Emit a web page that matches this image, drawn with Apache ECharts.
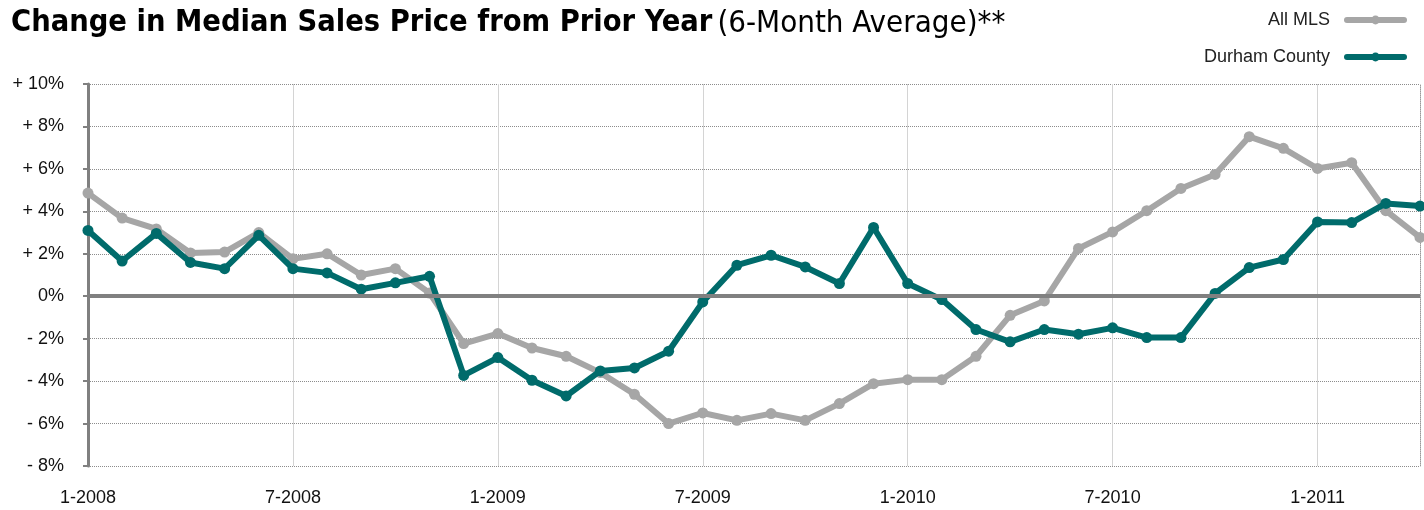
<!DOCTYPE html>
<html>
<head>
<meta charset="utf-8">
<script src="https://cdn.jsdelivr.net/npm/echarts@6/dist/echarts.min.js"></script>
<style>
  html, body { margin: 0; padding: 0; background: #fff; }
  #chart { width: 1424px; height: 510px; }
</style>
</head>
<body>
<div id="chart"></div>
<script>
// months, 1-2008 .. 4-2011
var months = [
  '1-2008','2-2008','3-2008','4-2008','5-2008','6-2008','7-2008','8-2008','9-2008','10-2008','11-2008','12-2008',
  '1-2009','2-2009','3-2009','4-2009','5-2009','6-2009','7-2009','8-2009','9-2009','10-2009','11-2009','12-2009',
  '1-2010','2-2010','3-2010','4-2010','5-2010','6-2010','7-2010','8-2010','9-2010','10-2010','11-2010','12-2010',
  '1-2011','2-2011','3-2011','4-2011'
];
// % change from prior year
var allMLS = [
  4.86, 3.68, 3.17, 2.04, 2.08, 3.0, 1.76, 2.0, 1.0, 1.3, 0.15,
  -2.23, -1.76, -2.44, -2.83, -3.6, -4.62, -6.0, -5.5, -5.85, -5.53, -5.85, -5.06, -4.12, -3.93,
  -3.93, -2.83, -0.9, -0.22, 2.25, 3.03, 4.03, 5.08, 5.74, 7.52, 6.97, 6.02, 6.29, 4.03, 2.77
];
var durham = [
  3.1, 1.66, 2.96, 1.59, 1.3, 2.87, 1.3, 1.1, 0.33, 0.63, 0.94,
  -3.73, -2.89, -3.96, -4.7, -3.52, -3.38, -2.59, -0.27, 1.46, 1.93, 1.38, 0.6, 3.24, 0.6,
  -0.16, -1.57, -2.15, -1.57, -1.79, -1.49, -1.95, -1.95, 0.13, 1.35, 1.73, 3.5, 3.47, 4.37, 4.25
];

var myChart = echarts.init(document.getElementById('chart'));
var font = 'Helvetica, Arial, "Liberation Sans", sans-serif';
var titleFont = '"Liberation Sans Narrow", "DejaVu Sans Condensed", sans-serif';

var option = {
  animation: false,
  title: {
    left: 6,
    top: 3,
    text: '{b|Change in Median Sales Price from Prior Year} {r|(6-Month Average)**}',
    textStyle: {
      rich: {
        b: { fontFamily: titleFont, fontWeight: 'bold', fontSize: 30.5, color: '#000' },
        r: { fontFamily: titleFont, fontWeight: 'normal', fontSize: 31, color: '#000' }
      }
    }
  },
  legend: {
    orient: 'vertical',
    right: 12,
    top: 6,
    align: 'right',
    itemWidth: 57,
    itemHeight: 11,
    itemGap: 19,
    lineStyle: { width: 6, cap: 'round' },
    textStyle: { fontFamily: font, fontSize: 18, color: '#222', padding: [0, 12, 0, 0] },
    data: ['All MLS', 'Durham County']
  },
  grid: { left: 88, right: 4, top: 84, bottom: 44 },
  xAxis: {
    type: 'category',
    data: months,
    boundaryGap: false,
    axisLine: { show: false },
    axisTick: { show: false },
    axisLabel: { interval: 5, margin: 23, fontFamily: font, fontSize: 18, color: '#111' },
    splitLine: { show: true, interval: 5, lineStyle: { color: '#d4d4d4', width: 1 } }
  },
  yAxis: [{
    type: 'value',
    min: -8,
    max: 10,
    interval: 2,
    axisLine: { show: true, lineStyle: { color: '#808080', width: 3 } },
    axisTick: { show: true, length: 5, lineStyle: { color: '#808080', width: 2 } },
    axisLabel: {
      margin: 24, fontFamily: font, fontSize: 18, color: '#111',
      formatter: function (v) {
        if (v > 0) return '+ ' + v + '%';
        if (v < 0) return '- ' + (-v) + '%';
        return '0%';
      }
    },
    splitLine: { show: true, lineStyle: { color: '#8c8c8c', type: 'dotted', width: 1 } }
  }, {
    type: 'value',
    position: 'right',
    min: -8,
    max: 10,
    interval: 2,
    axisLine: { show: true, lineStyle: { color: '#9a9a9a', type: 'dotted', width: 1 } },
    axisTick: { show: false },
    axisLabel: { show: false },
    splitLine: { show: false }
  }],
  series: [{
    name: 'All MLS',
    type: 'line',
    data: allMLS,
    color: '#a6a6a6',
    symbol: 'circle',
    symbolSize: 11,
    lineStyle: { width: 6, color: '#a6a6a6' },
    itemStyle: { color: '#a6a6a6' },
    markLine: {
      silent: true,
      symbol: 'none',
      label: { show: false },
      lineStyle: { color: '#808080', width: 4, type: 'solid' },
      data: [{ yAxis: 0 }]
    },
    z: 3
  }, {
    name: 'Durham County',
    type: 'line',
    data: durham,
    color: '#006b6b',
    symbol: 'circle',
    symbolSize: 11,
    lineStyle: { width: 6, color: '#006b6b' },
    itemStyle: { color: '#006b6b' },
    z: 4
  }]
};

myChart.setOption(option);
window.addEventListener('resize', function () {
  myChart.resize();
});
</script>
</body>
</html>
